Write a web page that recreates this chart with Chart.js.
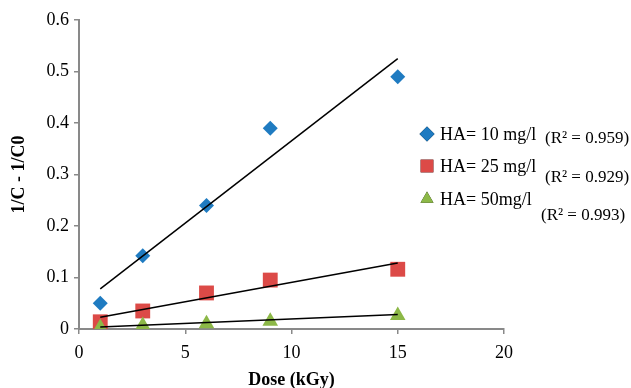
<!DOCTYPE html>
<html>
<head>
<meta charset="utf-8">
<script src="https://cdn.jsdelivr.net/npm/chart.js@4/dist/chart.umd.min.js"></script>
<style>
	html, body { margin: 0; padding: 0; background: #ffffff; }
	#wrap { width: 631px; height: 388px; }
</style>
</head>
<body>
<div id="wrap"><canvas id="doseChart" width="631" height="388"></canvas></div>
<script>
// Dose values (kGy)
const doses = [1, 3, 6, 9, 15];

// 1/C - 1/C0 for each humic acid level
const ha10 = [0.05, 0.142, 0.24, 0.39, 0.49];
const ha25 = [0.014, 0.035, 0.07, 0.095, 0.116];
const ha50 = [0.003, 0.007, 0.01, 0.015, 0.026];

// Trend line ends (at first and last dose)
const trendX = [1, 15];
const trend10 = [0.078, 0.525];
const trend25 = [0.023, 0.128];
const trend50 = [0.004, 0.028];

const seriesNames = ["HA= 10 mg/l", "HA= 25 mg/l", "HA= 50mg/l"];
const rSquared = ["(R² = 0.959)", "(R² = 0.929)", "(R² = 0.993)"];

const xTicks = [0, 5, 10, 15, 20];
const yTicks = [0, 0.1, 0.2, 0.3, 0.4, 0.5, 0.6];

const colors = ["#1f7bc1", "#dc4a47", "#8cb847"];
const styles = ["rectRot", "rect", "triangle"];
const radii = [7.5, 10.5, 9];

function toPoints(xs, ys) {
	return xs.map((x, i) => ({ x: x, y: ys[i] }));
}

const serif = "'Liberation Serif', 'Times New Roman', serif";
const axisGray = "#898989";

// Legend drawn over the right part of the plot, as in the original
const legendPlugin = {
	id: "sideLegend",
	afterDraw: function (chart) {
		const ctx = chart.ctx;
		const rows = [
			{ y: 134, ry: 139, rx: 545 },
			{ y: 166, ry: 178, rx: 545 },
			{ y: 199, ry: 216, rx: 541 },
		];
		ctx.save();
		ctx.fillStyle = "#000000";
		ctx.textBaseline = "middle";
		rows.forEach((row, i) => {
			Chart.helpers.drawPoint(ctx, {
				pointStyle: styles[i],
				radius: i === 1 ? 9 : 7.5,
				rotation: 0,
				borderWidth: 0,
			}, 427, row.y);
			ctx.fillStyle = colors[i];
			ctx.fill();
			ctx.fillStyle = "#000000";
			ctx.font = "18px " + serif;
			ctx.textAlign = "left";
			ctx.fillText(seriesNames[i], 440, row.y + 1);
			ctx.font = "17px " + serif;
			ctx.fillText(rSquared[i], row.rx, row.ry);
		});
		ctx.restore();
	},
};

// later series sit on top of earlier ones (lower order is drawn last)
const pointSets = [ha10, ha25, ha50].map((ys, i) => ({
	label: seriesNames[i],
	data: toPoints(doses, ys),
	showLine: false,
	pointStyle: styles[i],
	pointRadius: radii[i],
	pointBackgroundColor: colors[i],
	pointBorderColor: colors[i],
	pointBorderWidth: 0,
	order: 3 - i,
}));

const trendSets = [trend10, trend25, trend50].map((ys) => ({
	data: toPoints(trendX, ys),
	showLine: true,
	borderColor: "#000000",
	borderWidth: 1.5,
	pointRadius: 0,
	order: 0,
}));

const doseChart = new Chart(document.getElementById("doseChart").getContext("2d"), {
	type: "scatter",
	data: {
		datasets: pointSets.concat(trendSets),
	},
	options: {
		responsive: false,
		animation: false,
		layout: {
			padding: { left: 0, right: 127, top: 20, bottom: 0 },
		},
		plugins: {
			legend: { display: false },
			tooltip: { enabled: false },
		},
		scales: {
			x: {
				type: "linear",
				min: 0,
				max: 20,
				afterBuildTicks: function (scale) {
					scale.ticks = xTicks.map((v) => ({ value: v }));
				},
				afterFit: function (scale) {
					scale.height = 59;
				},
				ticks: {
					color: "#000000",
					font: { family: serif, size: 18 },
					padding: 8,
					maxRotation: 0,
				},
				grid: {
					display: true,
					drawOnChartArea: false,
					drawTicks: true,
					tickLength: 5,
					color: axisGray,
					lineWidth: 1.5,
				},
				border: { display: true, color: axisGray, width: 2 },
				title: {
					display: true,
					text: "Dose (kGy)",
					color: "#000000",
					font: { family: serif, size: 18, weight: "bold", lineHeight: 1 },
					padding: { top: 0, bottom: -1 },
				},
			},
			y: {
				type: "linear",
				min: 0,
				max: 0.6,
				afterBuildTicks: function (scale) {
					scale.ticks = yTicks.map((v) => ({ value: v }));
				},
				afterFit: function (scale) {
					scale.width = 79;
				},
				ticks: {
					color: "#000000",
					font: { family: serif, size: 18 },
					padding: 5,
					callback: function (v) {
						return v === 0 ? "0" : v.toFixed(1);
					},
				},
				grid: {
					display: true,
					drawOnChartArea: false,
					drawTicks: true,
					tickLength: 5,
					color: axisGray,
					lineWidth: 1.5,
				},
				border: { display: true, color: axisGray, width: 2 },
				title: {
					display: true,
					text: "1/C - 1/C0",
					color: "#000000",
					font: { family: serif, size: 18, weight: "bold", lineHeight: 1 },
					padding: { top: 10, bottom: 0 },
				},
			},
		},
	},
	plugins: [legendPlugin],
});
</script>
</body>
</html>
